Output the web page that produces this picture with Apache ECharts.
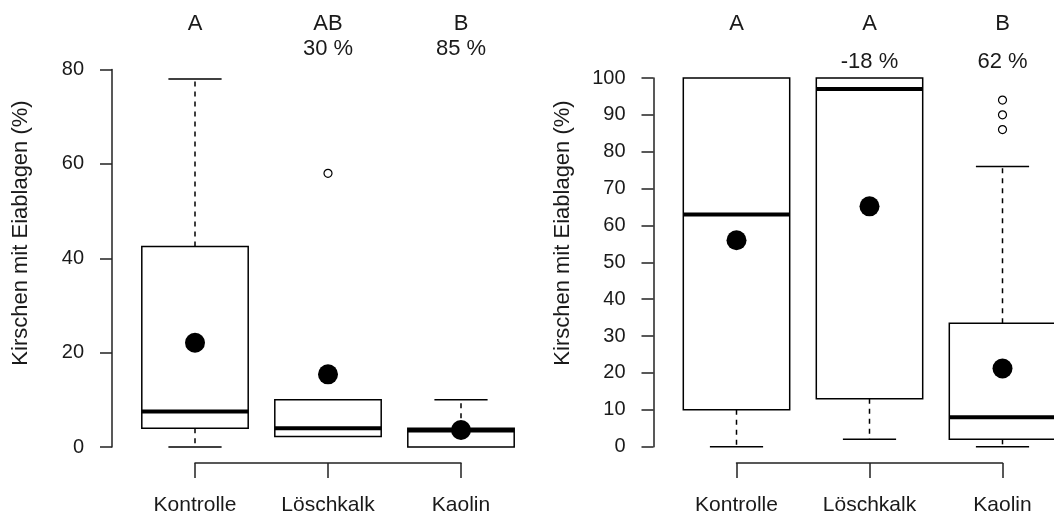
<!DOCTYPE html>
<html>
<head>
<meta charset="utf-8">
<script src="https://cdn.jsdelivr.net/npm/echarts@6/dist/echarts.min.js"></script>
<style>
html,body{margin:0;padding:0;background:#fff;width:1054px;height:516px;overflow:hidden;}
#chart{width:1090px;height:516px;}
</style>
</head>
<body>
<div id="chart"></div>
<script>
// ---- data ----
const categories = ['Kontrolle', 'Löschkalk', 'Kaolin'];
// [lowWhisker, Q1, median, Q3, highWhisker]
const leftBoxes = [
  [0, 4, 7.5, 42.5, 78],
  [2.2, 2.2, 4, 10, 10],
  [0, 0, 3.5, 4, 10]
];
const leftMeans = [22.1, 15.4, 3.6];
const leftOutliers = [[2, 58]];
const leftLetters = ['A', 'AB', 'B'];
const leftPercents = ['', '30 %', '85 %'];

const rightBoxes = [
  [0, 10, 63, 100, 100],
  [2, 13, 97, 100, 100],
  [0, 2, 8, 33.5, 76]
];
const rightMeans = [56, 65.2, 21.2];
const rightOutliers = [[3, 94], [3, 90], [3, 86]];
const rightLetters = ['A', 'A', 'B'];
const rightPercents = ['', '-18 %', '62 %'];

const leftTicks = {min: 0, max: 80, interval: 20};
const rightTicks = {min: 0, max: 100, interval: 10};
const yTitle = 'Kirschen mit Eiablagen (%)';

// ---- build ----
const FONT = 'Liberation Sans, Arial, sans-serif';
const TXT = '#1a1a1a';

function boxData(boxes) {
  return boxes.map((b, i) => [i + 1].concat(b));
}
function meanData(means) {
  return means.map((m, i) => [i + 1, m]);
}

function renderBox(params, api) {
  const x = api.value(0);
  const lo = api.value(1), q1 = api.value(2), med = api.value(3), q3 = api.value(4), hi = api.value(5);
  const half = 0.4, cap = 0.2;
  const pL = api.coord([x - half, q3]);
  const pR = api.coord([x + half, q1]);
  const c = api.coord([x, 0])[0];
  const cl = api.coord([x - cap, 0])[0];
  const cr = api.coord([x + cap, 0])[0];
  const yLo = api.coord([x, lo])[1], yQ1 = api.coord([x, q1])[1];
  const yMed = api.coord([x, med])[1], yQ3 = api.coord([x, q3])[1], yHi = api.coord([x, hi])[1];
  const lineStyle = {stroke: '#000', lineWidth: 1.5, fill: null};
  const dash = {stroke: '#000', lineWidth: 1.5, lineDash: [5, 5], fill: null};
  const children = [];
  if (hi > q3) {
    children.push({type: 'line', shape: {x1: c, y1: yQ3, x2: c, y2: yHi}, style: dash});
    children.push({type: 'line', shape: {x1: cl, y1: yHi, x2: cr, y2: yHi}, style: lineStyle});
  }
  if (lo < q1) {
    children.push({type: 'line', shape: {x1: c, y1: yQ1, x2: c, y2: yLo}, style: dash});
    children.push({type: 'line', shape: {x1: cl, y1: yLo, x2: cr, y2: yLo}, style: lineStyle});
  }
  children.push({type: 'rect', shape: {x: pL[0], y: pL[1], width: pR[0] - pL[0], height: pR[1] - pL[1]},
    style: {stroke: '#000', lineWidth: 1.5, fill: '#fff'}});
  children.push({type: 'line', shape: {x1: pL[0], y1: yMed, x2: pR[0], y2: yMed},
    style: {stroke: '#000', lineWidth: 4}});
  return {type: 'group', children: children};
}

const chart = echarts.init(document.getElementById('chart'), null, {renderer: 'canvas'});

const yAxisCommon = (t, gi, off) => ({
  gridIndex: gi, type: 'value', min: t.min, max: t.max, interval: t.interval, offset: off,
  axisLine: {show: true, lineStyle: {color: '#222', width: 1.5}},
  axisTick: {show: true, length: 12, lineStyle: {color: '#222', width: 1.5}},
  axisLabel: {color: TXT, fontSize: 20, fontFamily: FONT, margin: 28},
  splitLine: {show: false}
});
const bracketX = (gi) => ({
  gridIndex: gi, type: 'value', min: 1, max: 3, interval: 1,
  axisLine: {show: true, lineStyle: {color: '#222', width: 1.5}},
  axisTick: {show: true, length: 15, lineStyle: {color: '#222', width: 1.5}},
  axisLabel: {color: TXT, fontSize: 21, fontFamily: FONT, margin: 32,
    formatter: v => categories[Math.round(v) - 1] || ''},
  splitLine: {show: false}
});

const dotStyle = {color: '#000', opacity: 1};
const openStyle = {color: '#fff', borderColor: '#000', borderWidth: 1.2, opacity: 1};

const option = {
  backgroundColor: '#fff',
  animation: false,
  grid: [
    {left: 128.5, top: 69.5, width: 399, height: 377.5},
    {left: 670, top: 78, width: 399, height: 368.7},
    {left: 195, top: 400, width: 266, height: 63},
    {left: 736.5, top: 400, width: 266, height: 63}
  ],
  xAxis: [
    {gridIndex: 0, type: 'value', min: 0.5, max: 3.5, show: false},
    {gridIndex: 1, type: 'value', min: 0.5, max: 3.5, show: false},
    bracketX(2),
    bracketX(3)
  ],
  yAxis: [
    yAxisCommon(leftTicks, 0, 16.5),
    yAxisCommon(rightTicks, 1, 16.5),
    {gridIndex: 2, type: 'value', min: 0, max: 1, show: false},
    {gridIndex: 3, type: 'value', min: 0, max: 1, show: false}
  ],
  series: [
    {type: 'custom', xAxisIndex: 0, yAxisIndex: 0, renderItem: renderBox, data: boxData(leftBoxes), z: 2},
    {type: 'custom', xAxisIndex: 1, yAxisIndex: 1, renderItem: renderBox, data: boxData(rightBoxes), z: 2},
    {type: 'scatter', xAxisIndex: 0, yAxisIndex: 0, data: meanData(leftMeans), symbolSize: 20,
      itemStyle: dotStyle, z: 5},
    {type: 'scatter', xAxisIndex: 1, yAxisIndex: 1, data: meanData(rightMeans), symbolSize: 20,
      itemStyle: dotStyle, z: 5},
    {type: 'scatter', xAxisIndex: 0, yAxisIndex: 0, data: leftOutliers, symbol: 'circle', symbolSize: 8,
      itemStyle: openStyle, z: 5},
    {type: 'scatter', xAxisIndex: 1, yAxisIndex: 1, data: rightOutliers, symbol: 'circle', symbolSize: 8,
      itemStyle: openStyle, z: 5}
  ]
};
chart.setOption(option);

// text annotations placed over the category positions
const graphics = [];
function addTop(letters, percents, xAxisIndex, pctY) {
  letters.forEach((l, i) => {
    const px = chart.convertToPixel({xAxisIndex: xAxisIndex}, i + 1);
    graphics.push({type: 'text', x: px, y: 24, style: {text: l, font: '22px ' + FONT, fill: TXT,
      textAlign: 'center', textVerticalAlign: 'middle'}});
    if (percents[i]) {
      graphics.push({type: 'text', x: px, y: pctY, style: {text: percents[i], font: '22px ' + FONT, fill: TXT,
        textAlign: 'center', textVerticalAlign: 'middle'}});
    }
  });
}
addTop(leftLetters, leftPercents, 0, 49);
addTop(rightLetters, rightPercents, 1, 62);
[21, 563].forEach(x => {
  graphics.push({type: 'text', x: x, y: 233, rotation: Math.PI / 2,
    style: {text: yTitle, font: '22px ' + FONT, fill: TXT, textAlign: 'center', textVerticalAlign: 'middle'}});
});
chart.setOption({graphic: graphics});
</script>
</body>
</html>
